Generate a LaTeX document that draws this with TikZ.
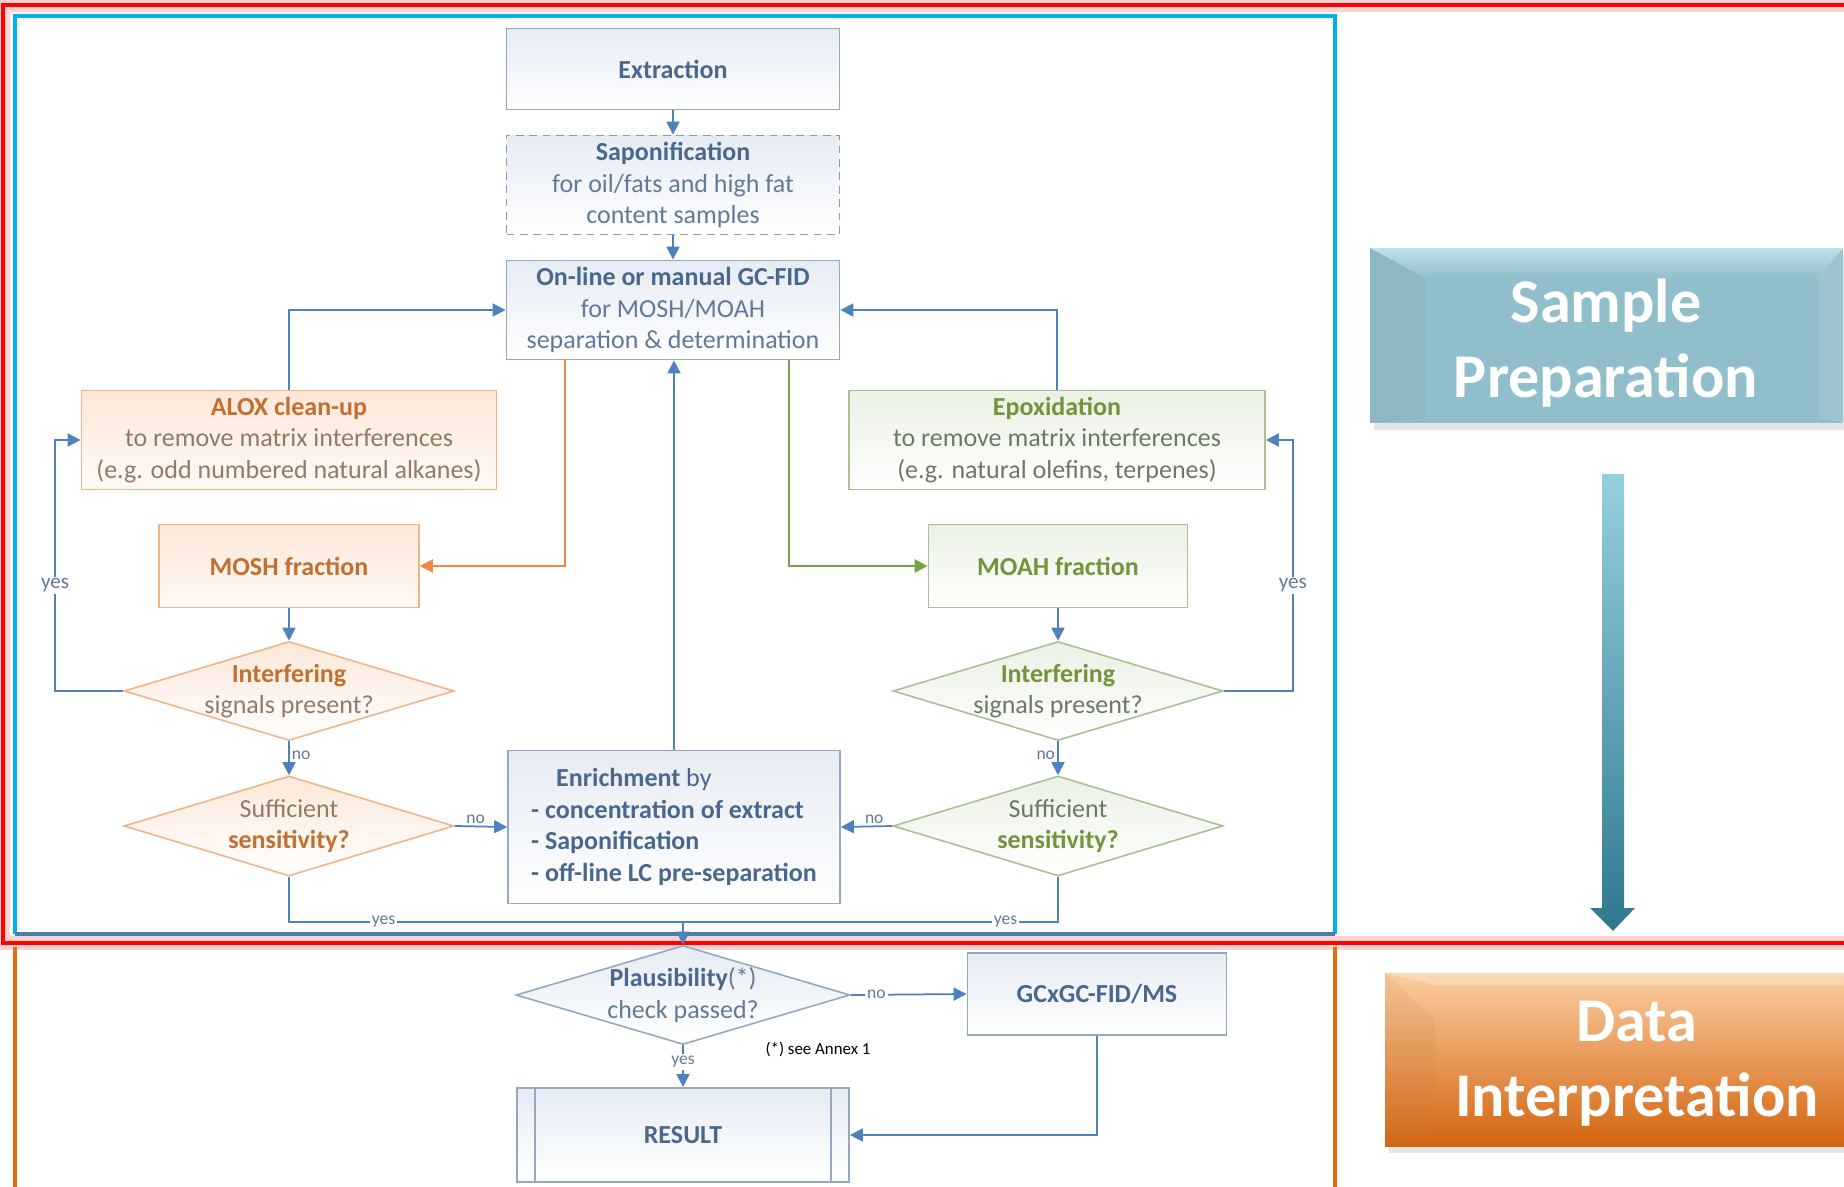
\documentclass[tikz,border=0pt]{standalone}
\usepackage{fontspec}
\setmainfont{Carlito}
\usepackage{tikz}
\usetikzlibrary{positioning,arrows.meta,shapes.geometric,calc,shadows}
\definecolor{lineclr}{RGB}{79,129,189}
\definecolor{boxclr}{RGB}{150,168,192}
\definecolor{dashclr}{RGB}{140,155,178}
\definecolor{txtclr}{RGB}{72,104,142}
\definecolor{subclr}{RGB}{98,122,152}
\definecolor{bfill}{RGB}{230,236,244}
\definecolor{oboxclr}{RGB}{240,180,135}
\definecolor{otxtclr}{RGB}{194,112,50}
\definecolor{osubclr}{RGB}{145,122,105}
\definecolor{ofill}{RGB}{252,232,218}
\definecolor{ofillb}{RGB}{255,249,244}
\definecolor{gboxclr}{RGB}{172,190,148}
\definecolor{gtxtclr}{RGB}{115,148,60}
\definecolor{gsubclr}{RGB}{110,120,100}
\definecolor{gfill}{RGB}{235,241,228}
\definecolor{olineclr}{RGB}{236,138,68}
\definecolor{glineclr}{RGB}{118,163,74}
\definecolor{frameclr}{RGB}{0,176,240}
\definecolor{barclr}{RGB}{75,125,170}
\definecolor{orgframe}{RGB}{228,108,10}
\definecolor{spclr}{RGB}{145,190,203}
\definecolor{sptop}{RGB}{190,226,235}
\definecolor{ditop}{RGB}{250,206,160}
\definecolor{dibot}{RGB}{212,100,16}
\definecolor{arrtop}{RGB}{150,207,222}
\definecolor{arrbot}{RGB}{46,121,142}
\newcommand{\btitle}[1]{\textcolor{txtclr}{\textbf{#1}}}
\newcommand{\otitle}[1]{\textcolor{otxtclr}{\textbf{#1}}}
\newcommand{\gtitle}[1]{\textcolor{gtxtclr}{\textbf{#1}}}
\tikzset{
  proc/.style={rectangle,draw=boxclr,line width=0.5pt,top color=bfill,bottom color=white,
               minimum width=3.33cm,minimum height=0.99cm,inner sep=1pt,align=center,
               text=subclr,font=\fontsize{7.4}{9}\selectfont},
  oproc/.style={proc,draw=oboxclr,top color=ofill,bottom color=ofillb,text=osubclr},
  gproc/.style={proc,draw=gboxclr,top color=gfill,bottom color=white,text=gsubclr},
  dec/.style={diamond,aspect=3.3,draw=boxclr,line width=0.45pt,top color=bfill,bottom color=white,
              minimum width=3.3cm,minimum height=0.99cm,inner sep=-1mm,align=center,
              text=subclr,font=\fontsize{7.4}{9}\selectfont},
  odec/.style={dec,draw=oboxclr,top color=ofill,bottom color=white,text=osubclr},
  gdec/.style={dec,draw=gboxclr,top color=gfill,bottom color=white,text=gsubclr},
  flow/.style={-{Triangle[length=1.3mm,width=1.3mm]},draw=lineclr,line width=0.5pt},
  oflow/.style={flow,draw=olineclr,line width=0.7pt},
  gflow/.style={flow,draw=glineclr,line width=0.7pt},
  link/.style={draw=lineclr,line width=0.5pt},
  lbl/.style={fill=white,inner sep=0.6pt,text=subclr,font=\fontsize{5}{6}\selectfont},
  banner/.style={align=center,text=white,font=\bfseries\fontsize{17.7}{21.3}\selectfont},
}
\begin{document}
\begin{tikzpicture}
\useasboundingbox (0,0) rectangle (18.44,-11.87);
\clip (0,0) rectangle (18.44,-11.87);
\fill[white] (0,0) rectangle (18.44,-11.87);
\draw[line width=4pt,red!18] (0,-0.05) -- (18.44,-0.05);
\draw[line width=4pt,red!18] (0,-9.43) -- (18.44,-9.43);
\draw[line width=4pt,red!18] (0.03,-0.05) -- (0.03,-9.43);
\draw[line width=1.4pt,red] (18.6,-0.05) -- (0.03,-0.05) -- (0.03,-9.43) -- (18.6,-9.43);
\draw[line width=1.1pt,frameclr] (0.15,-9.34) -- (0.15,-0.16) -- (13.35,-0.16) -- (13.35,-9.34);
\draw[line width=1.2pt,barclr] (0.15,-9.34) -- (13.35,-9.34);
\draw[line width=1pt,orgframe] (0.15,-9.47) -- (0.15,-11.9) (13.35,-9.47) -- (13.35,-11.9);

\fill[spclr,drop shadow={opacity=0.2,shadow xshift=0.04,shadow yshift=-0.07}] (13.70,-2.48) rectangle (18.43,-4.23);
\shade[top color=sptop,bottom color=spclr] (13.70,-2.48) -- (18.43,-2.48) -- (18.18,-2.78) -- (14.25,-2.78) -- cycle;
\fill[white,opacity=0.1] (18.43,-2.48) -- (18.43,-4.23) -- (18.18,-4.18) -- (18.18,-2.78) -- cycle;
\fill[black,opacity=0.03] (13.70,-2.48) -- (14.25,-2.78) -- (14.25,-4.18) -- (13.70,-4.23) -- cycle;
\node[banner] (sptxt) at (16.06,-3.43) {Sample\\Preparation};
\shade[top color=arrtop,bottom color=arrbot] (16.02,-4.74) -- (16.24,-4.74) -- (16.24,-9.08)
  -- (16.35,-9.08) -- (16.13,-9.31) -- (15.90,-9.08) -- (16.02,-9.08) -- cycle;
\shade[top color=ditop,bottom color=dibot,drop shadow={opacity=0.2,shadow xshift=0.04,shadow yshift=-0.07}] (13.85,-9.73) rectangle (18.9,-11.46);
\fill[white,opacity=0.25] (13.85,-9.73) -- (18.9,-9.73) -- (18.9,-9.85) -- (14.35,-9.85) -- cycle;
\fill[brown,opacity=0.12] (13.85,-9.73) -- (14.35,-10.2) -- (14.35,-11.38) -- (13.85,-11.46) -- cycle;
\node[banner] (ditxt) at (16.37,-10.64) {Data\\Interpretation};

\node[proc,minimum height=0.81cm] (ext) at (6.73,-0.69) {\btitle{Extraction}};
\node[proc,draw=dashclr,dash pattern=on 2.2pt off 1.6pt] (sapo) at (6.73,-1.85)
  {\btitle{Saponification}\\for oil/fats and high fat\\content samples};
\node[proc] (gcfid) at (6.73,-3.10) {\btitle{On-line or manual GC-FID}\\for MOSH/MOAH\\separation \& determination};
\node[oproc,minimum width=4.15cm] (alox) at (2.89,-4.40)
  {\otitle{ALOX clean-up}\\to remove matrix interferences\\(e.g. odd numbered natural alkanes)};
\node[gproc,minimum width=4.16cm] (epox) at (10.57,-4.40)
  {\gtitle{Epoxidation}\\to remove matrix interferences\\(e.g. natural olefins, terpenes)};
\node[oproc,minimum width=2.60cm,minimum height=0.83cm] (mosh) at (2.89,-5.66) {\otitle{MOSH fraction}};
\node[gproc,minimum width=2.59cm,minimum height=0.83cm] (moah) at (10.58,-5.66) {\gtitle{MOAH fraction}};
\node[odec] (intl) at (2.89,-6.91) {\otitle{Interfering}\\signals present?};
\node[gdec] (intr) at (10.58,-6.91) {\gtitle{Interfering}\\signals present?};
\node[odec,minimum height=1.0cm] (sufl) at (2.89,-8.26) {Sufficient\\\otitle{sensitivity?}};
\node[gdec,minimum height=1.0cm] (sufr) at (10.58,-8.26) {Sufficient\\\gtitle{sensitivity?}};
\node[proc,minimum width=3.32cm,minimum height=1.53cm,align=left,text=txtclr] (enrich) at (6.74,-8.27)
  {\hspace*{2.5mm}\textbf{Enrichment} by\\\textbf{- concentration of extract}\\\textbf{- Saponification}\\\textbf{- off-line LC pre-separation}};
\node[dec,minimum width=3.34cm] (plaus) at (6.83,-9.95) {\btitle{Plausibility}(*)\\check passed?};
\node[proc,minimum width=2.59cm,minimum height=0.82cm] (gcxgc) at (10.97,-9.94) {\btitle{GCxGC-FID/MS}};
\node[proc,minimum width=3.32cm,minimum height=0.94cm,
  path picture={\draw[boxclr,line width=0.4pt]
    ([xshift=1.8mm]path picture bounding box.north west) -- ([xshift=1.8mm]path picture bounding box.south west)
    ([xshift=-1.8mm]path picture bounding box.north east) -- ([xshift=-1.8mm]path picture bounding box.south east);}]
  (result) at (6.83,-11.35) {\btitle{RESULT}};
\node[font=\fontsize{4.8}{5}\selectfont,text=black] (annex) at (8.18,-10.49) {(*) see Annex 1};
\coordinate (join) at (6.83,-9.22);

\draw[flow] (ext) -- (sapo); \draw[flow] (sapo) -- (gcfid);
\draw[flow] (alox.north) |- (gcfid.west); \draw[flow] (epox.north) |- (gcfid.east);
\draw[oflow] ([xshift=-1.08cm]gcfid.south) |- (mosh.east);
\draw[gflow] ([xshift=1.16cm]gcfid.south) |- (moah.west);
\draw[flow] (enrich.north) -- (enrich.north |- gcfid.south);
\draw[flow] (mosh) -- (intl); \draw[flow] (moah) -- (intr);
\draw[flow] (intl.west) -- ++(-0.68,0) |- node[lbl,pos=0.21,font=\fontsize{6}{7}\selectfont]{yes} (alox.west);
\draw[flow] (intr.east) -- ++(0.69,0) |- node[lbl,pos=0.21,font=\fontsize{6}{7}\selectfont]{yes} (epox.east);
\draw[flow] (intl.south) -- node[lbl,right,fill=none,pos=0.4]{no} (sufl.north);
\draw[flow] (intr.south) -- node[lbl,left,fill=none,pos=0.4]{no} (sufr.north);
\draw[flow] (sufl.east) -- node[lbl,above,fill=none,pos=0.4]{no} (enrich.west);
\draw[flow] (sufr.west) -- node[lbl,above,fill=none,pos=0.35]{no} (enrich.east);
\draw[link] (sufl.south) |- node[lbl,pos=0.62]{yes} (join);
\draw[link] (sufr.south) |- node[lbl,pos=0.57]{yes} (join);
\draw[flow] (join) -- (plaus.north);
\draw[flow] (plaus.east) -- node[lbl,pos=0.22]{no} (gcxgc.west);
\draw[flow] (plaus.south) -- node[lbl,pos=0.4]{yes} (result.north);
\draw[flow] (gcxgc.south) |- (result.east);
\end{tikzpicture}
\end{document}
